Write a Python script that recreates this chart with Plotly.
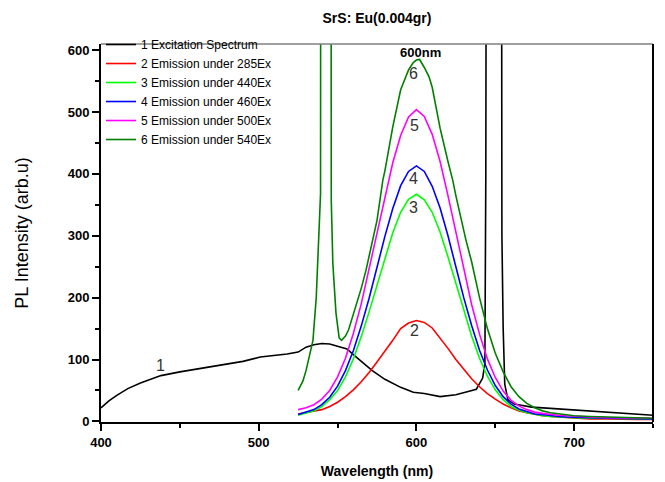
import plotly.graph_objects as go

# excitation spectrum (curve 1)
EXC_WL = [400, 405, 410, 417, 425, 438, 450, 459, 470, 480, 490, 501, 510, 518, 525,
          530, 535, 540, 545, 550, 556, 560, 565, 572, 580, 590, 598, 605, 615, 625,
          631, 636, 638, 640, 642, 643.4, 644, 645, 653.5, 654.2, 655, 656, 658, 662,
          673, 685, 703, 720, 735, 748, 750]
EXC_PL = [22, 33, 42, 53, 62, 74, 80, 84, 89, 93, 97, 104, 106, 109, 112,
          120, 124, 126, 125, 121, 117, 108, 97, 82, 68, 55, 47, 45, 40, 43,
          47, 50, 52, 61, 70, 94, 400, 2000, 2000, 300, 150, 60, 35, 28,
          23, 21, 18, 15, 12, 10, 10]

# emission curves 2-5 share one wavelength grid
EM_WL = [525, 530, 535, 540, 545, 550, 555, 560, 565, 570, 575, 580, 585, 590, 595,
         600, 605, 610, 615, 620, 625, 630, 635, 640, 645, 650, 655, 660, 665, 670,
         675, 680, 685, 690, 695, 700, 710, 720, 730, 740, 750]
EM_285 = [12, 14, 16, 19, 24, 31, 40, 51, 64, 79, 96, 113, 131, 150, 159,
          163, 160, 151, 135, 118, 100, 84, 69, 56, 45, 36, 28, 22, 17, 14,
          11, 9, 8, 7, 6, 5, 4, 4, 3, 3, 3]
EM_440 = [10, 13, 17, 24, 35, 50, 72, 101, 137, 177, 221, 265, 305, 338, 359,
          367, 358, 338, 306, 266, 222, 178, 138, 102, 73, 51, 35, 24, 18, 14,
          11, 9, 8, 7, 6, 6, 5, 5, 4, 4, 4]
EM_460 = [11, 15, 19, 27, 39, 57, 82, 114, 154, 199, 249, 299, 344, 381, 404,
          413, 404, 380, 345, 300, 250, 200, 155, 115, 83, 58, 40, 28, 20, 16,
          12, 11, 9, 8, 7, 7, 6, 5, 5, 5, 4]
EM_500 = [19, 22, 27, 36, 50, 72, 102, 142, 190, 246, 306, 362, 418, 462, 492,
          504, 493, 464, 420, 365, 305, 245, 189, 141, 101, 71, 49, 34, 25, 19,
          15, 13, 11, 10, 9, 8, 7, 6, 6, 5, 5]

# emission under 540 nm excitation (curve 6), with the scattered excitation line
EM540_WL = [525, 528, 530, 532, 534.4, 536.5, 538.2, 539.2, 539.6, 545.6, 546, 547,
            549, 551, 552.5, 555, 557, 560, 562, 565, 568, 572.3, 575, 578.7, 580,
            585, 590, 595, 598, 600, 602, 605, 608, 610, 615, 620, 623, 625, 630,
            631.4, 635, 640, 645, 650, 655, 660, 665, 670, 675, 680, 685, 690, 695,
            700, 710, 720, 730, 740, 750]
EM_540 = [50, 65, 82, 105, 131, 201, 309, 368, 2000, 2000, 358, 255,
          175, 135, 131, 138, 148, 172, 191, 215, 244, 293, 325, 390, 405,
          476, 536, 568, 580, 584, 585, 572, 557, 540, 474, 420, 390, 365, 308,
          293, 258, 200, 150, 110, 80, 56, 40, 29, 22, 17, 14, 12, 10,
          9, 8, 7, 6, 6, 5]

SERIES = [
    ("1 Excitation Spectrum", EXC_WL, EXC_PL, "#000000"),
    ("2 Emission under 285Ex", EM_WL, EM_285, "#ff0000"),
    ("3 Emission under 440Ex", EM_WL, EM_440, "#00ff00"),
    ("4 Emission under 460Ex", EM_WL, EM_460, "#0000ff"),
    ("5 Emission under 500Ex", EM_WL, EM_500, "#ff00ff"),
    ("6 Emission under 540Ex", EM540_WL, EM_540, "#008000"),
]

CURVE_LABELS = ["1", "2", "3", "4", "5", "6"]
CURVE_LABEL_X = [438, 599, 598, 598, 599, 598]
CURVE_LABEL_Y = [91, 147, 346, 393, 479, 563]

X_TICKS = [400, 500, 600, 700]
Y_TICKS = [0, 100, 200, 300, 400, 500, 600]

FONT = "Arial, Liberation Sans, sans-serif"

fig = go.Figure()
for name, x, y, color in SERIES:
    fig.add_trace(go.Scatter(x=x, y=y, mode="lines", name=name,
                             line=dict(color=color, width=1.6)))

for t, x, y in zip(CURVE_LABELS, CURVE_LABEL_X, CURVE_LABEL_Y):
    fig.add_annotation(x=x, y=y, text=t, showarrow=False,
                       font=dict(family=FONT, size=16, color="#333333"))
fig.add_annotation(x=602.7, y=597, text="<b>600nm</b>", showarrow=False,
                   font=dict(family=FONT, size=13, color="#000000"))

# grey top frame line, black right frame line
fig.add_shape(type="line", xref="paper", yref="paper", x0=0, x1=1, y0=1, y1=1,
              line=dict(color="#808080", width=1.5))
fig.add_shape(type="line", xref="paper", yref="paper", x0=1, x1=1, y0=0, y1=1,
              line=dict(color="#000000", width=2))

# page body has an 8px margin, so the figure is sized/offset to land on the reference
fig.update_layout(
    width=657, height=474,
    margin=dict(l=93, r=12, t=36, b=60),
    paper_bgcolor="white", plot_bgcolor="white",
    font=dict(family=FONT, color="#000000"),
    title=dict(text="<b>SrS: Eu(0.004gr)</b>", x=0.5, xref="paper", xanchor="center",
               y=0.979, yref="container", yanchor="middle",
               font=dict(size=14)),
    legend=dict(x=0.0, y=1.037, xanchor="left", yanchor="top",
                bgcolor="rgba(0,0,0,0)", font=dict(size=12), borderwidth=0),
    showlegend=True,
)
fig.update_xaxes(
    range=[400, 750], showgrid=False, zeroline=False, automargin=False,
    showline=True, linecolor="#000000", linewidth=1.8,
    ticks="outside", ticklen=7, tickwidth=1.5, tickcolor="#000000",
    tickvals=X_TICKS, ticktext=[f"<b>{v}</b>" for v in X_TICKS],
    tickfont=dict(size=13),
    minor=dict(tickvals=[450, 550, 650, 750], ticks="outside", ticklen=4,
               tickcolor="#000000", tickwidth=1.5),
    title=dict(text="<b>Wavelength (nm)</b>", font=dict(size=14), standoff=18),
)
fig.update_yaxes(
    range=[-1, 610], showgrid=False, zeroline=False, automargin=False,
    showline=True, linecolor="#000000", linewidth=1.8,
    ticks="outside", ticklen=7, tickwidth=1.5, tickcolor="#000000",
    tickvals=Y_TICKS, ticktext=[f"<b>{v}</b>" for v in Y_TICKS],
    tickfont=dict(size=13),
    minor=dict(tickvals=[50, 150, 250, 350, 450, 550], ticks="outside", ticklen=4,
               tickcolor="#000000", tickwidth=1.5),
    title=dict(text="PL Intensity (arb.u)", font=dict(size=18), standoff=34),
)

fig.write_html("out.html")
